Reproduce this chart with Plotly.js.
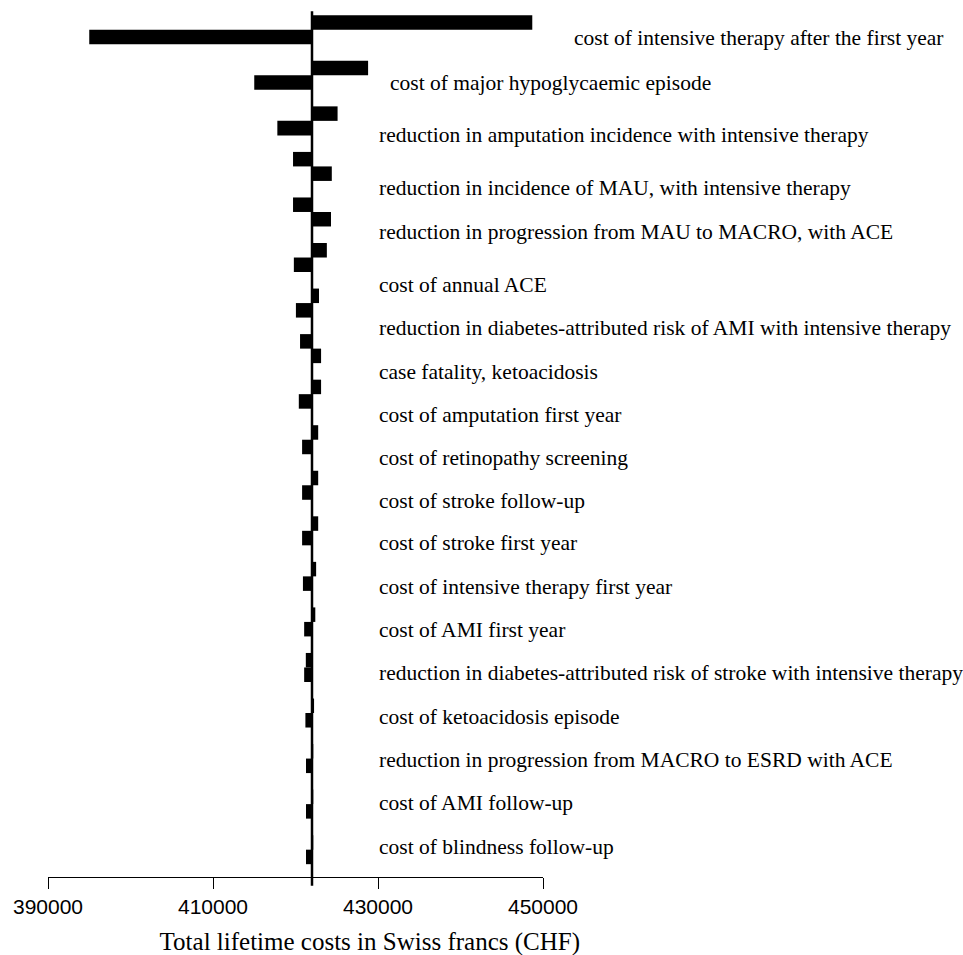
<!DOCTYPE html>
<html>
<head>
<meta charset="utf-8">
<script src="https://cdn.plot.ly/plotly-3.0.1.min.js"></script>
<style>html,body{margin:0;padding:0;background:#fff;}#chart{width:963px;height:955px;}</style>
</head>
<body>
<div id="chart"></div>
<script>
// ---- data ----
const parameters = [
  "cost of intensive therapy after the first year",
  "cost of major hypoglycaemic episode",
  "reduction in amputation incidence with intensive therapy",
  "reduction in incidence of MAU, with intensive therapy",
  "reduction in progression from MAU to MACRO, with ACE",
  "cost of annual ACE",
  "reduction in diabetes-attributed risk of AMI with intensive therapy",
  "case fatality, ketoacidosis",
  "cost of amputation first year",
  "cost of retinopathy screening",
  "cost of stroke follow-up",
  "cost of stroke first year",
  "cost of intensive therapy first year",
  "cost of AMI first year",
  "reduction in diabetes-attributed risk of stroke with intensive therapy",
  "cost of ketoacidosis episode",
  "reduction in progression from MACRO to ESRD with ACE",
  "cost of AMI follow-up",
  "cost of blindness follow-up"
];
const baseCost = 422000;
// total lifetime cost (CHF) for the two scenario bars of each parameter
const upperBarCost = [448700, 428800, 425100, 419700, 419700, 423800, 422850, 420550, 423100, 422750,
                      422750, 422750, 422500, 422400, 421250, 422250, 422150, 422150, 422150];
const lowerBarCost = [395000, 415000, 417800, 424400, 424300, 419800, 420050, 423100, 420400, 420800,
                      420800, 420800, 420900, 421050, 421050, 421200, 421270, 421270, 421270];
const xTicks = [390000, 410000, 430000, 450000];
const xRange = [390000, 450000];

// ---- styling (label placement) ----
const labelX = [453500, 431200, 429900, 429900, 429900, 429900, 429900, 429900, 429900, 429900,
                429900, 429900, 429900, 429900, 429900, 429900, 429900, 429900, 429900];
const labelDrop = [8, 7.5, 14, 21.4, 19.8, 27.3, 24.7, 23.1, 20.6, 18, 15.5, 12, 10.4, 7.8, 5.3, 3.7, 1.2, -1.4, -3];

const upperTrace = {
  type: 'bar', orientation: 'h',
  y: parameters,
  x: upperBarCost.map(v => v - baseCost),
  base: parameters.map(() => baseCost),
  marker: {color: '#000000', line: {width: 0}},
  hoverinfo: 'skip', showlegend: false
};
const lowerTrace = {
  type: 'bar', orientation: 'h',
  y: parameters,
  x: lowerBarCost.map(v => v - baseCost),
  base: parameters.map(() => baseCost),
  marker: {color: '#000000', line: {width: 0}},
  hoverinfo: 'skip', showlegend: false
};

const annotations = parameters.map((p, i) => ({
  text: p,
  x: (labelX[i] - xRange[0]) / (xRange[1] - xRange[0]), xref: 'paper',
  y: p, yref: 'y',
  xanchor: 'left', yanchor: 'middle', showarrow: false,
  yshift: -labelDrop[i],
  font: {family: 'Liberation Serif, Times New Roman, serif', size: 21.5, color: '#000'}
}));

const layout = {
  width: 963, height: 955,
  margin: {l: 48, r: 420, t: 7, b: 78},
  paper_bgcolor: '#fff', plot_bgcolor: '#fff',
  barmode: 'group', bargap: 0.363, bargroupgap: 0,
  title: {
    text: 'Total lifetime costs in Swiss francs (CHF)',
    xref: 'container', yref: 'container', x: 0.384, y: 0.014,
    xanchor: 'center', yanchor: 'middle',
    font: {family: 'Liberation Serif, Times New Roman, serif', size: 25, color: '#000'}
  },
  xaxis: {
    range: xRange, tickvals: xTicks, ticktext: xTicks.map(String),
    showgrid: false, zeroline: false, showline: true, linecolor: '#000', linewidth: 1,
    ticks: 'outside', ticklen: 11, tickwidth: 1, tickcolor: '#000',
    tickfont: {family: 'Liberation Sans, Arial, sans-serif', size: 21, color: '#000'},
    fixedrange: true
  },
  yaxis: {
    type: 'category', range: [18.6, -0.5], showticklabels: false, showgrid: false,
    zeroline: false, showline: false, ticks: '', fixedrange: true
  },
  shapes: [{
    type: 'line', xref: 'x', yref: 'paper', x0: baseCost, x1: baseCost, y0: -0.01, y1: 0.995,
    line: {color: '#000', width: 2.5}
  }],
  annotations: annotations
};

Plotly.newPlot('chart', [upperTrace, lowerTrace], layout, {staticPlot: true, displayModeBar: false});
</script>
</body>
</html>
